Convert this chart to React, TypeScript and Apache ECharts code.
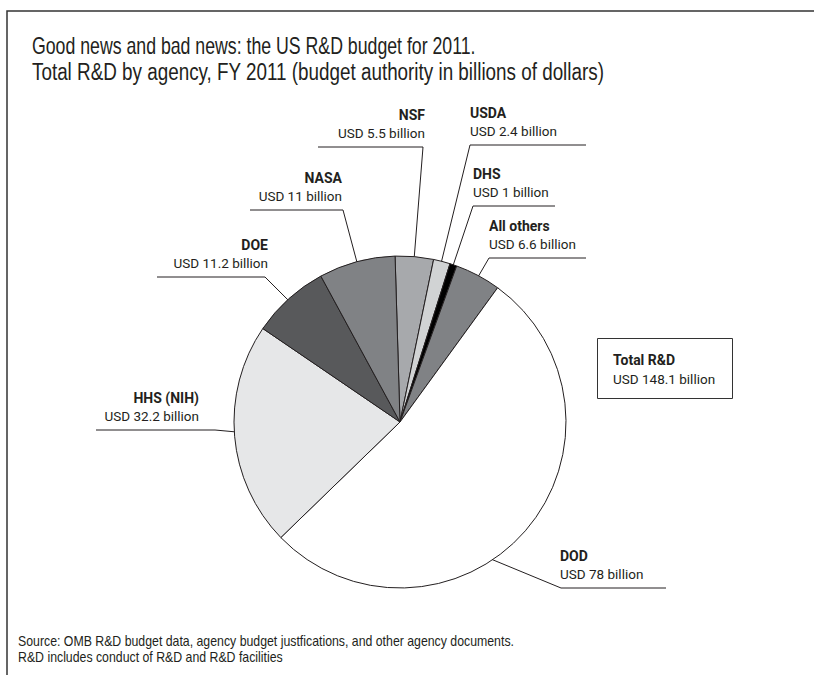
import React, { useEffect, useRef } from 'react';
import * as echarts from 'echarts';

// ---- data ----
const agencies = ['NSF', 'USDA', 'DHS', 'All others', 'DOD', 'HHS (NIH)', 'DOE', 'NASA'];
const budgets = [5.5, 2.4, 1, 6.6, 78, 32.2, 11.2, 11];
const sliceColors = ['#a7a9ac', '#d1d3d4', '#000000', '#808285', '#ffffff', '#e6e7e8', '#58595b', '#808285'];
const totalLabel = 'Total R&D';
const totalValue = 148.1;
const titleLines = [
  'Good news and bad news: the US R&D budget for 2011.',
  'Total R&D by agency, FY 2011 (budget authority in billions of dollars)',
];
const sourceLines = [
  'Source: OMB R&D budget data, agency budget justfications, and other agency documents.',
  'R&D includes conduct of R&D and R&D facilities',
];

// ---- layout (positions only) ----
const FONT = "'Liberation Sans', Arial, sans-serif";
const LFONT = "Roboto, 'Liberation Sans', sans-serif";
const INK = '#231f20';
const CX = 400;
const CY = 422;
const R = 166;
const START_ANGLE = 91.7;
const titleY = [46, 71.5];
const titleScale = [0.77, 0.82];
type LabelPos = { x: number; lineY: number; align: 'left' | 'right'; bendX: number; endX: number; depth: number; anchor?: number[] };
const labelPositions: LabelPos[] = [
  { x: 425, lineY: 147, align: 'right', bendX: 423, endX: 318, depth: 0.88 },
  { x: 470, lineY: 145, align: 'left', bendX: 470, endX: 586, depth: 0.87 },
  { x: 473, lineY: 206, align: 'left', bendX: 473, endX: 555, depth: 0.95 },
  { x: 489, lineY: 258, align: 'left', bendX: 489, endX: 586, depth: 0.87 },
  { x: 560, lineY: 588, align: 'left', bendX: 561, endX: 666, depth: 0.96, anchor: [486, 557] },
  { x: 199, lineY: 430, align: 'right', bendX: 215, endX: 96, depth: 0.85 },
  { x: 268, lineY: 277, align: 'right', bendX: 265, endX: 157, depth: 0.85 },
  { x: 342, lineY: 210, align: 'right', bendX: 343, endX: 250, depth: 0.86 },
];

function anchorFor(i: number): number[] {
  const L = labelPositions[i];
  if (L.anchor) return L.anchor;
  const sum = budgets.reduce((a, b) => a + b, 0);
  let cum = 0;
  for (let k = 0; k < i; k++) cum += budgets[k];
  const a = ((90 - START_ANGLE) + ((cum + budgets[i] / 2) / sum) * 360) * Math.PI / 180;
  const r = R * L.depth;
  return [CX + r * Math.sin(a), CY - r * Math.cos(a)];
}

export default function App() {
  const ref = useRef<HTMLDivElement>(null);
  useEffect(() => {
    const chart = echarts.init(ref.current!, null, { renderer: 'svg' });
    const option: any = {
      animation: false,
      backgroundColor: '#ffffff',
      graphic: [
        {
          type: 'polyline',
          shape: { points: [[7, 675], [7, 11], [814, 11]] },
          style: { stroke: '#333333', lineWidth: 1.5, fill: 'none' },
          silent: true,
        },
        ...titleLines.map((t, i) => ({
          type: 'text',
          x: 32,
          y: titleY[i],
          scaleX: titleScale[i],
          style: { text: t, fill: INK, font: `23px ${FONT}`, textVerticalAlign: 'middle', textAlign: 'left' },
          silent: true,
        })),
        ...sourceLines.map((t, i) => ({
          type: 'text',
          x: 18,
          y: i === 0 ? 641 : 657,
          scaleX: 0.88,
          style: { text: t, fill: INK, font: `14px ${FONT}`, textVerticalAlign: 'middle', textAlign: 'left' },
          silent: true,
        })),
        {
          type: 'rect',
          shape: { x: 597.5, y: 338.5, width: 135, height: 60 },
          style: { fill: '#ffffff', stroke: '#333333', lineWidth: 1 },
          silent: true,
        },
        {
          type: 'text',
          x: 613,
          y: 360,
          style: { text: totalLabel, fill: INK, font: `bold 14px ${LFONT}`, textVerticalAlign: 'middle' },
          silent: true,
        },
        {
          type: 'text',
          x: 613,
          y: 379,
          style: { text: `USD ${totalValue} billion`, fill: INK, font: `13.5px ${LFONT}`, textVerticalAlign: 'middle' },
          silent: true,
        },
      ],
      series: [
        {
          type: 'pie',
          center: [CX, CY],
          radius: R,
          startAngle: START_ANGLE,
          clockwise: true,
          avoidLabelOverlap: false,
          silent: true,
          emphasis: { disabled: true },
          itemStyle: { borderColor: INK, borderWidth: 1 },
          data: agencies.map((name, i) => ({
            name,
            value: budgets[i],
            itemStyle: { color: sliceColors[i] },
          })),
          label: {
            show: true,
            position: 'outer',
            formatter: (p: any) => `{b|${p.name}}\n{v|USD ${p.value} billion}`,
            rich: {
              b: { fontFamily: LFONT, fontSize: 14, fontWeight: 'bold', color: INK, lineHeight: 18 },
              v: { fontFamily: LFONT, fontSize: 13.5, color: INK, lineHeight: 18 },
            },
          },
          labelLine: {
            show: true,
            smooth: false,
            lineStyle: { color: INK, width: 1 },
          },
          labelLayout: (params: any) => {
            const L = labelPositions[params.dataIndex];
            return {
              x: L.x,
              y: L.lineY - 5,
              align: L.align,
              verticalAlign: 'bottom',
              labelLinePoints: [anchorFor(params.dataIndex), [L.bendX, L.lineY], [L.endX, L.lineY]],
            };
          },
        },
      ],
    };
    chart.setOption(option);
    return () => chart.dispose();
  }, []);
  return (
    <div
      ref={ref}
      style={{ position: 'absolute', left: 0, top: 0, width: 814, height: 675, background: '#fff' }}
    />
  );
}
